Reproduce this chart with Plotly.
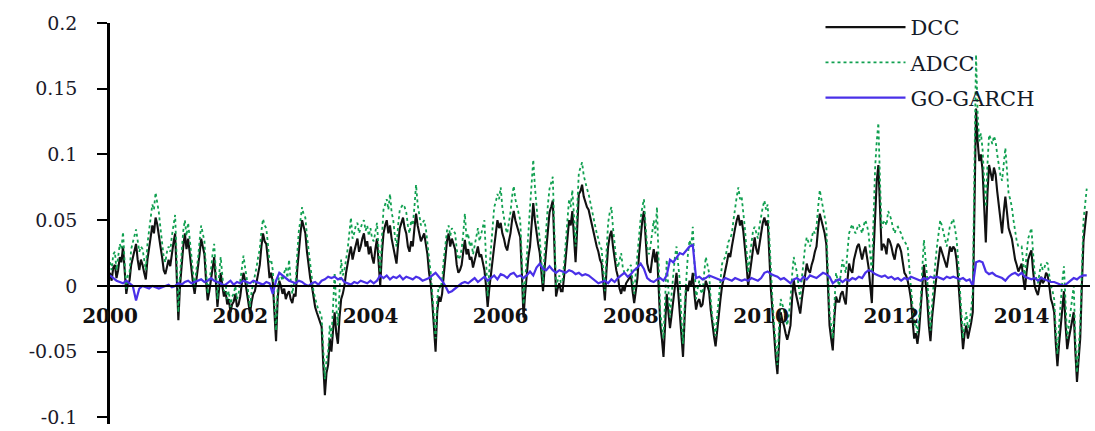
import numpy as np
import plotly.graph_objects as go

# Sampling grids: correlations estimated 40 times a year (DCC / ADCC)
# and 20 times a year (GO-GARCH), 2000.0 - 2015.0
dates_fine = np.round(2000 + 0.025 * np.arange(601), 3)
dates = np.round(2000 + 0.05 * np.arange(301), 3)

dcc = [
    # 2000
    0.010, 0.004, 0.014, 0.016, 0.006, 0.012, 0.022, 0.018, 0.030, 0.010, -0.006, 0.002, 0.004, 0.016, 0.022, 0.027, 0.032, 0.020, 0.012, 0.020,
    0.016, 0.010, 0.005, 0.020, 0.030, 0.036, 0.046, 0.040, 0.052, 0.047, 0.040, 0.030, 0.022, 0.012, 0.009, 0.016, 0.020, 0.015, 0.026, 0.033,
    # 2001
    0.040, 0.010, -0.026, 0.000, 0.018, 0.030, 0.040, 0.028, 0.036, 0.024, 0.012, 0.002, -0.006, 0.004, 0.010, 0.024, 0.036, 0.030, 0.024, 0.004,
    -0.011, -0.004, 0.004, 0.014, 0.022, 0.004, -0.016, -0.002, 0.010, 0.000, -0.008, -0.004, -0.014, -0.010, -0.020, -0.014, -0.012, -0.006, -0.016, -0.014,
    # 2002
    -0.008, 0.002, 0.010, 0.004, -0.004, -0.014, -0.021, -0.012, -0.006, -0.004, 0.002, 0.010, 0.016, 0.030, 0.040, 0.034, 0.032, 0.020, 0.006, 0.010,
    0.003, -0.020, -0.042, -0.010, 0.004, 0.000, -0.006, -0.002, -0.010, -0.006, -0.004, -0.010, -0.013, -0.006, -0.008, 0.012, 0.030, 0.040, 0.050, 0.044,
    # 2003
    0.040, 0.026, 0.014, 0.006, 0.000, -0.010, -0.016, -0.020, -0.024, -0.028, -0.031, -0.060, -0.083, -0.066, -0.060, -0.040, -0.050, -0.034, -0.020, -0.036,
    -0.044, -0.024, -0.010, -0.006, 0.000, 0.010, 0.018, 0.024, 0.030, 0.020, 0.026, 0.032, 0.036, 0.026, 0.030, 0.036, 0.040, 0.030, 0.034, 0.024,
    # 2004
    0.030, 0.022, 0.017, 0.028, 0.036, 0.018, 0.000, 0.024, 0.040, 0.046, 0.050, 0.040, 0.046, 0.036, 0.030, 0.022, 0.017, 0.032, 0.044, 0.048,
    0.052, 0.044, 0.040, 0.030, 0.026, 0.034, 0.030, 0.044, 0.055, 0.046, 0.040, 0.034, 0.037, 0.040, 0.032, 0.024, 0.010, 0.002, -0.013, -0.030,
    # 2005
    -0.050, -0.020, -0.008, -0.012, -0.006, 0.008, 0.020, 0.034, 0.040, 0.030, 0.036, 0.032, 0.028, 0.016, 0.010, 0.012, 0.016, 0.026, 0.035, 0.024,
    0.028, 0.020, 0.022, 0.014, 0.020, 0.026, 0.030, 0.022, 0.024, 0.018, 0.012, 0.000, -0.016, -0.002, 0.010, 0.022, 0.030, 0.040, 0.050, 0.044,
    # 2006
    0.048, 0.040, 0.036, 0.030, 0.027, 0.034, 0.040, 0.050, 0.057, 0.050, 0.045, 0.040, 0.037, 0.010, -0.024, -0.006, 0.010, 0.022, 0.030, 0.048,
    0.063, 0.050, 0.040, 0.032, 0.025, 0.010, -0.004, 0.014, 0.030, 0.044, 0.056, 0.060, 0.065, 0.030, -0.008, -0.002, 0.002, -0.004, -0.004, 0.008,
    # 2007
    0.020, 0.036, 0.050, 0.046, 0.057, 0.040, 0.018, 0.044, 0.070, 0.072, 0.077, 0.068, 0.064, 0.060, 0.058, 0.052, 0.048, 0.040, 0.036, 0.030,
    0.026, 0.020, 0.017, 0.004, -0.011, 0.012, 0.030, 0.038, 0.042, 0.030, 0.020, 0.012, 0.007, -0.002, -0.006, 0.000, -0.004, 0.002, 0.004, 0.006,
    # 2008
    0.008, -0.004, -0.013, -0.004, 0.006, 0.024, 0.040, 0.050, 0.057, 0.034, 0.017, 0.012, 0.010, 0.020, 0.028, 0.018, 0.026, 0.000, -0.029, -0.040,
    -0.054, -0.030, -0.006, -0.020, -0.032, -0.022, -0.010, 0.002, 0.010, -0.004, -0.020, -0.040, -0.054, -0.024, 0.000, -0.004, 0.004, 0.000, 0.010, -0.006,
    # 2009
    -0.018, -0.012, -0.010, -0.016, -0.014, -0.004, 0.004, 0.000, -0.004, -0.018, -0.030, -0.038, -0.046, -0.032, -0.020, -0.010, 0.000, 0.006, 0.010, 0.018,
    0.025, 0.022, 0.030, 0.038, 0.044, 0.050, 0.054, 0.046, 0.050, 0.042, 0.030, 0.016, 0.000, 0.010, 0.020, 0.030, 0.037, 0.028, 0.024, 0.032,
    # 2010
    0.040, 0.048, 0.052, 0.046, 0.050, 0.020, -0.003, -0.020, -0.040, -0.055, -0.067, -0.040, -0.020, -0.026, -0.030, -0.036, -0.041, -0.036, -0.030, -0.010,
    0.005, -0.004, -0.010, -0.016, -0.021, -0.010, 0.000, 0.010, 0.017, 0.012, 0.010, 0.016, 0.020, 0.026, 0.030, 0.044, 0.055, 0.050, 0.045, 0.040,
    # 2011
    0.032, 0.000, -0.030, -0.040, -0.049, -0.024, -0.008, -0.012, -0.012, -0.006, -0.004, -0.010, -0.014, 0.004, 0.017, 0.012, 0.010, 0.020, 0.025, 0.030,
    0.032, 0.026, 0.020, 0.026, 0.030, 0.022, 0.014, 0.000, -0.013, 0.024, 0.060, 0.080, 0.092, 0.050, 0.027, 0.032, 0.030, 0.024, 0.036, 0.034,
    # 2012
    0.030, 0.024, 0.020, 0.028, 0.032, 0.030, 0.026, 0.018, 0.010, 0.008, 0.004, -0.002, -0.010, -0.026, -0.040, -0.036, -0.044, -0.034, -0.020, 0.000,
    0.016, 0.004, -0.010, -0.030, -0.042, -0.024, -0.010, 0.000, 0.010, 0.022, 0.030, 0.026, 0.022, 0.018, 0.014, 0.022, 0.030, 0.026, 0.030, 0.028,
    # 2013
    0.020, 0.006, -0.010, -0.030, -0.048, -0.036, -0.030, -0.040, -0.035, -0.028, -0.020, 0.060, 0.135, 0.110, 0.095, 0.100, 0.088, 0.060, 0.033, 0.070,
    0.092, 0.086, 0.080, 0.090, 0.085, 0.072, 0.060, 0.050, 0.040, 0.056, 0.068, 0.056, 0.044, 0.040, 0.036, 0.028, 0.020, 0.016, 0.011, 0.014,
    # 2014
    0.017, 0.006, -0.003, 0.010, 0.020, 0.024, 0.027, 0.012, 0.000, -0.004, -0.007, 0.000, 0.007, 0.002, 0.004, 0.010, 0.008, 0.000, -0.010, -0.014,
    -0.020, -0.044, -0.061, -0.044, -0.030, -0.014, -0.004, -0.030, -0.048, -0.040, -0.033, -0.026, -0.020, -0.050, -0.073, -0.056, -0.040, 0.000, 0.034, 0.046,
    0.057,
]

adcc = [
    # 2000
    0.018, 0.012, 0.024, 0.026, 0.012, 0.022, 0.032, 0.028, 0.041, 0.018, -0.002, 0.008, 0.010, 0.028, 0.034, 0.038, 0.043, 0.032, 0.026, 0.030,
    0.028, 0.020, 0.012, 0.032, 0.044, 0.052, 0.062, 0.058, 0.071, 0.064, 0.056, 0.044, 0.034, 0.022, 0.018, 0.026, 0.030, 0.026, 0.038, 0.046,
    # 2001
    0.054, 0.020, -0.020, 0.008, 0.030, 0.042, 0.050, 0.038, 0.048, 0.034, 0.022, 0.010, -0.002, 0.012, 0.020, 0.034, 0.046, 0.040, 0.034, 0.012,
    -0.006, 0.004, 0.012, 0.024, 0.032, 0.012, -0.010, 0.008, 0.022, 0.008, -0.004, 0.002, -0.010, -0.004, -0.016, -0.008, -0.006, 0.000, -0.010, -0.006,
    # 2002
    0.004, 0.014, 0.023, 0.014, 0.006, -0.006, -0.016, -0.004, 0.002, 0.006, 0.014, 0.022, 0.028, 0.042, 0.051, 0.046, 0.044, 0.032, 0.018, 0.020,
    0.012, -0.012, -0.034, -0.002, 0.010, 0.008, 0.004, 0.010, 0.014, 0.006, 0.020, 0.004, -0.006, 0.002, 0.002, 0.024, 0.042, 0.050, 0.060, 0.054,
    # 2003
    0.052, 0.038, 0.026, 0.014, 0.006, -0.004, -0.010, -0.014, -0.018, -0.020, -0.024, -0.050, -0.071, -0.056, -0.050, -0.030, -0.040, -0.016, 0.010, -0.016,
    -0.030, -0.004, 0.020, 0.008, 0.012, 0.020, 0.028, 0.040, 0.052, 0.036, 0.040, 0.046, 0.048, 0.040, 0.044, 0.048, 0.050, 0.042, 0.046, 0.038,
    # 2004
    0.044, 0.036, 0.034, 0.042, 0.048, 0.028, 0.010, 0.036, 0.058, 0.062, 0.066, 0.058, 0.070, 0.056, 0.050, 0.038, 0.030, 0.046, 0.058, 0.060,
    0.062, 0.060, 0.056, 0.046, 0.040, 0.050, 0.046, 0.060, 0.077, 0.062, 0.054, 0.046, 0.048, 0.050, 0.044, 0.034, 0.022, 0.010, -0.006, -0.020,
    # 2005
    -0.040, -0.010, 0.000, -0.002, 0.004, 0.020, 0.034, 0.042, 0.046, 0.038, 0.044, 0.042, 0.040, 0.028, 0.020, 0.022, 0.028, 0.040, 0.055, 0.036,
    0.040, 0.030, 0.034, 0.024, 0.030, 0.038, 0.044, 0.034, 0.040, 0.046, 0.050, 0.020, -0.008, 0.012, 0.030, 0.044, 0.060, 0.064, 0.070, 0.066,
    # 2006
    0.075, 0.060, 0.050, 0.044, 0.040, 0.048, 0.056, 0.068, 0.076, 0.066, 0.060, 0.054, 0.050, 0.020, -0.014, 0.004, 0.020, 0.040, 0.060, 0.080,
    0.096, 0.076, 0.060, 0.046, 0.036, 0.020, 0.002, 0.026, 0.047, 0.062, 0.074, 0.078, 0.083, 0.040, -0.002, 0.004, 0.008, 0.002, 0.004, 0.018,
    # 2007
    0.034, 0.052, 0.066, 0.060, 0.073, 0.054, 0.030, 0.060, 0.086, 0.090, 0.094, 0.084, 0.078, 0.074, 0.070, 0.064, 0.058, 0.050, 0.046, 0.040,
    0.036, 0.030, 0.028, 0.012, -0.004, 0.026, 0.048, 0.056, 0.060, 0.044, 0.030, 0.020, 0.014, 0.020, 0.025, 0.014, 0.010, 0.010, 0.012, 0.014,
    # 2008
    0.016, 0.004, -0.006, 0.010, 0.025, 0.040, 0.052, 0.060, 0.066, 0.046, 0.030, 0.024, 0.030, 0.040, 0.050, 0.040, 0.060, 0.020, -0.020, -0.030,
    -0.040, -0.010, 0.020, -0.002, -0.024, -0.006, 0.010, 0.022, 0.030, 0.016, 0.004, -0.024, -0.044, -0.014, 0.010, 0.024, 0.035, 0.030, 0.045, 0.010,
    # 2009
    -0.010, -0.002, 0.004, -0.004, -0.006, 0.010, 0.022, 0.016, 0.010, -0.010, -0.024, -0.030, -0.038, -0.022, -0.010, 0.004, 0.017, 0.020, 0.022, 0.028,
    0.034, 0.036, 0.040, 0.050, 0.060, 0.068, 0.075, 0.066, 0.068, 0.058, 0.044, 0.028, 0.010, 0.022, 0.035, 0.042, 0.045, 0.040, 0.036, 0.046,
    # 2010
    0.055, 0.060, 0.065, 0.058, 0.062, 0.034, 0.006, -0.012, -0.030, -0.046, -0.060, -0.030, -0.010, -0.014, -0.018, -0.024, -0.030, -0.022, -0.010, 0.008,
    0.022, 0.016, 0.010, 0.000, -0.010, 0.006, 0.020, 0.030, 0.037, 0.034, 0.030, 0.036, 0.042, 0.040, 0.045, 0.060, 0.073, 0.066, 0.060, 0.054,
    # 2011
    0.046, 0.012, -0.020, -0.030, -0.040, -0.014, 0.010, 0.004, 0.000, 0.010, 0.020, 0.014, 0.010, 0.026, 0.040, 0.044, 0.047, 0.042, 0.040, 0.044,
    0.047, 0.044, 0.040, 0.046, 0.050, 0.046, 0.040, 0.024, 0.010, 0.050, 0.090, 0.110, 0.124, 0.080, 0.044, 0.048, 0.050, 0.046, 0.057, 0.054,
    # 2012
    0.050, 0.044, 0.040, 0.044, 0.045, 0.042, 0.040, 0.036, 0.034, 0.032, 0.030, 0.014, 0.000, -0.016, -0.030, -0.028, -0.036, -0.024, -0.010, 0.014,
    0.035, 0.020, 0.006, -0.016, -0.034, -0.014, 0.004, 0.018, 0.030, 0.042, 0.050, 0.046, 0.040, 0.034, 0.030, 0.038, 0.046, 0.048, 0.051, 0.044,
    # 2013
    0.036, 0.020, 0.000, -0.020, -0.040, -0.028, -0.020, -0.032, -0.028, -0.018, -0.004, 0.090, 0.176, 0.130, 0.110, 0.116, 0.104, 0.080, 0.060, 0.092,
    0.115, 0.112, 0.108, 0.114, 0.110, 0.100, 0.090, 0.084, 0.080, 0.094, 0.105, 0.088, 0.070, 0.066, 0.060, 0.050, 0.040, 0.034, 0.030, 0.030,
    # 2014
    0.030, 0.018, 0.006, 0.024, 0.036, 0.040, 0.044, 0.026, 0.010, 0.006, 0.002, 0.010, 0.017, 0.012, 0.014, 0.018, 0.017, 0.008, 0.000, -0.004,
    -0.010, -0.034, -0.052, -0.030, -0.010, 0.004, 0.015, -0.014, -0.040, -0.030, -0.020, -0.010, 0.000, -0.040, -0.066, -0.048, -0.030, 0.012, 0.050, 0.062,
    0.074,
]

go_garch = [
    0.008, 0.006, 0.004, 0.003, 0.002, 0.004, 0.002, 0.000, -0.011, -0.002,
    0.000, -0.001, -0.002, 0.000, -0.001, -0.002, -0.001, 0.000, 0.001, -0.001,
    0.000, 0.002, 0.001, 0.003, 0.004, 0.002, 0.003, 0.004, 0.005, 0.003,
    0.004, 0.006, 0.004, 0.003, 0.002, 0.000, 0.002, 0.004, 0.001, 0.003,
    0.002, 0.004, 0.003, 0.002, 0.004, 0.003, 0.002, 0.001, 0.003, 0.002,
    -0.006, 0.004, 0.010, 0.008, 0.006, 0.004, 0.003, 0.002, 0.004, 0.003,
    0.001, 0.000, 0.002, 0.003, 0.001, 0.004, 0.005, 0.007, 0.006, 0.007,
    0.005, 0.006, 0.003, 0.002, 0.001, 0.003, 0.002, 0.004, 0.003, 0.002,
    0.004, 0.002, 0.004, 0.008, 0.006, 0.008, 0.005, 0.007, 0.006, 0.008,
    0.005, 0.007, 0.006, 0.005, 0.007, 0.006, 0.004, 0.005, 0.006, 0.008,
    0.010, 0.007, 0.004, 0.000, -0.005, -0.004, -0.002, 0.000, 0.002, 0.003,
    0.002, 0.004, 0.006, 0.003, 0.005, 0.007, 0.004, 0.006, 0.008, 0.005,
    0.009, 0.008, 0.006, 0.009, 0.010, 0.007, 0.008, 0.006, 0.008, 0.011,
    0.008, 0.014, 0.017, 0.013, 0.012, 0.015, 0.012, 0.010, 0.012, 0.011,
    0.010, 0.012, 0.011, 0.009, 0.010, 0.008, 0.009, 0.008, 0.006, 0.004,
    0.002, 0.003, 0.004, 0.002, 0.005, 0.003, 0.006, 0.008, 0.010, 0.007,
    0.009, 0.012, 0.014, 0.017, 0.013, 0.006, 0.004, 0.003, 0.005, 0.006,
    0.004, 0.008, 0.020, 0.018, 0.022, 0.025, 0.024, 0.027, 0.030, 0.031,
    0.006, 0.007, 0.005, 0.006, 0.008, 0.007, 0.006, 0.005, 0.004, 0.006,
    0.005, 0.004, 0.006, 0.005, 0.004, 0.005, 0.004, 0.006, 0.005, 0.004,
    0.006, 0.010, 0.011, 0.009, 0.008, 0.007, 0.005, 0.006, 0.004, 0.002,
    0.005, 0.006, 0.004, 0.007, 0.005, 0.008, 0.007, 0.006, 0.008, 0.010,
    0.009, 0.007, 0.002, 0.004, 0.005, 0.003, 0.005, 0.004, 0.006, 0.005,
    0.007, 0.006, 0.010, 0.012, 0.011, 0.009, 0.008, 0.007, 0.008, 0.006,
    0.007, 0.005, 0.006, 0.004, 0.006, 0.005, 0.007, 0.006, 0.005, 0.004,
    0.006, 0.005, 0.007, 0.006, 0.007, 0.006, 0.005, 0.007, 0.006, 0.007,
    0.006, 0.005, 0.006, 0.004, 0.005, 0.000, 0.018, 0.019, 0.018, 0.011,
    0.009, 0.010, 0.008, 0.007, 0.006, 0.004, 0.007, 0.009, 0.010, 0.008,
    0.010, 0.007, 0.006, 0.005, 0.006, 0.004, 0.006, 0.005, 0.004, 0.003,
    0.003, 0.002, 0.001, 0.000, 0.002, 0.004, 0.006, 0.005, 0.007, 0.008,
    0.008,
]

y_ticks = [-0.1, -0.05, 0, 0.05, 0.1, 0.15, 0.2]
y_tick_labels = ["-0.1", "-0.05", "0", "0.05", "0.1", "0.15", "0.2"]
x_ticks = [2000, 2002, 2004, 2006, 2008, 2010, 2012, 2014]
x_tick_labels = ["2000", "2002", "2004", "2006", "2008", "2010", "2012", "2014"]

assert len(dcc) == len(adcc) == len(dates_fine)
assert len(go_garch) == len(dates)

SERIF = "DejaVu Serif, Liberation Serif, serif"
Y_MIN, Y_MAX = -0.105, 0.2

fig = go.Figure()
fig.add_trace(go.Scatter(
    x=dates_fine, y=dcc, name="DCC", mode="lines", legendgroup="a",
    line=dict(color="#111111", width=2.1),
))
fig.add_trace(go.Scatter(
    x=dates_fine, y=adcc, name="ADCC", mode="lines", legendgroup="b",
    line=dict(color="#10a050", width=1.8, dash="dot"),
))
fig.add_trace(go.Scatter(
    x=dates, y=go_garch, name="GO-GARCH", mode="lines", legendgroup="c",
    line=dict(color="#4a30e8", width=2.2),
))

fig.update_layout(
    width=1095, height=431,
    margin=dict(l=110, r=5, t=23, b=7, autoexpand=False),
    paper_bgcolor="white", plot_bgcolor="white",
    font=dict(family=SERIF, size=20, color="#1a1a2a"),
    showlegend=True,
    legend=dict(
        x=0.725, y=1.04, xanchor="left", yanchor="top",
        bgcolor="rgba(0,0,0,0)", font=dict(family=SERIF, size=21, color="#141a28"),
        itemwidth=80, tracegroupgap=5,
    ),
    xaxis=dict(
        range=[2000, 2015.05],
        anchor="free",
        # horizontal axis crosses the vertical one at y = 0
        position=(0 - Y_MIN) / (Y_MAX - Y_MIN),
        automargin=False,
        showline=True, linecolor="black", linewidth=2,
        showgrid=False, zeroline=False,
        ticks="", tickvals=x_ticks, ticktext=x_tick_labels,
        tickfont=dict(family=SERIF, size=20, color="#111111", weight="bold"),
        ticklabelstandoff=12,
    ),
    yaxis=dict(
        range=[Y_MIN, Y_MAX],
        automargin=False,
        showline=True, linecolor="black", linewidth=2.5,
        showgrid=False, zeroline=False,
        ticks="outside", ticklen=10, tickwidth=2, tickcolor="black",
        tickvals=y_ticks, ticktext=y_tick_labels,
        tickfont=dict(family=SERIF, size=19, color="#1a1a2a"),
        ticklabelstandoff=16,
        ticklabeloverflow="allow",
    ),
)

fig.write_html("out.html")
